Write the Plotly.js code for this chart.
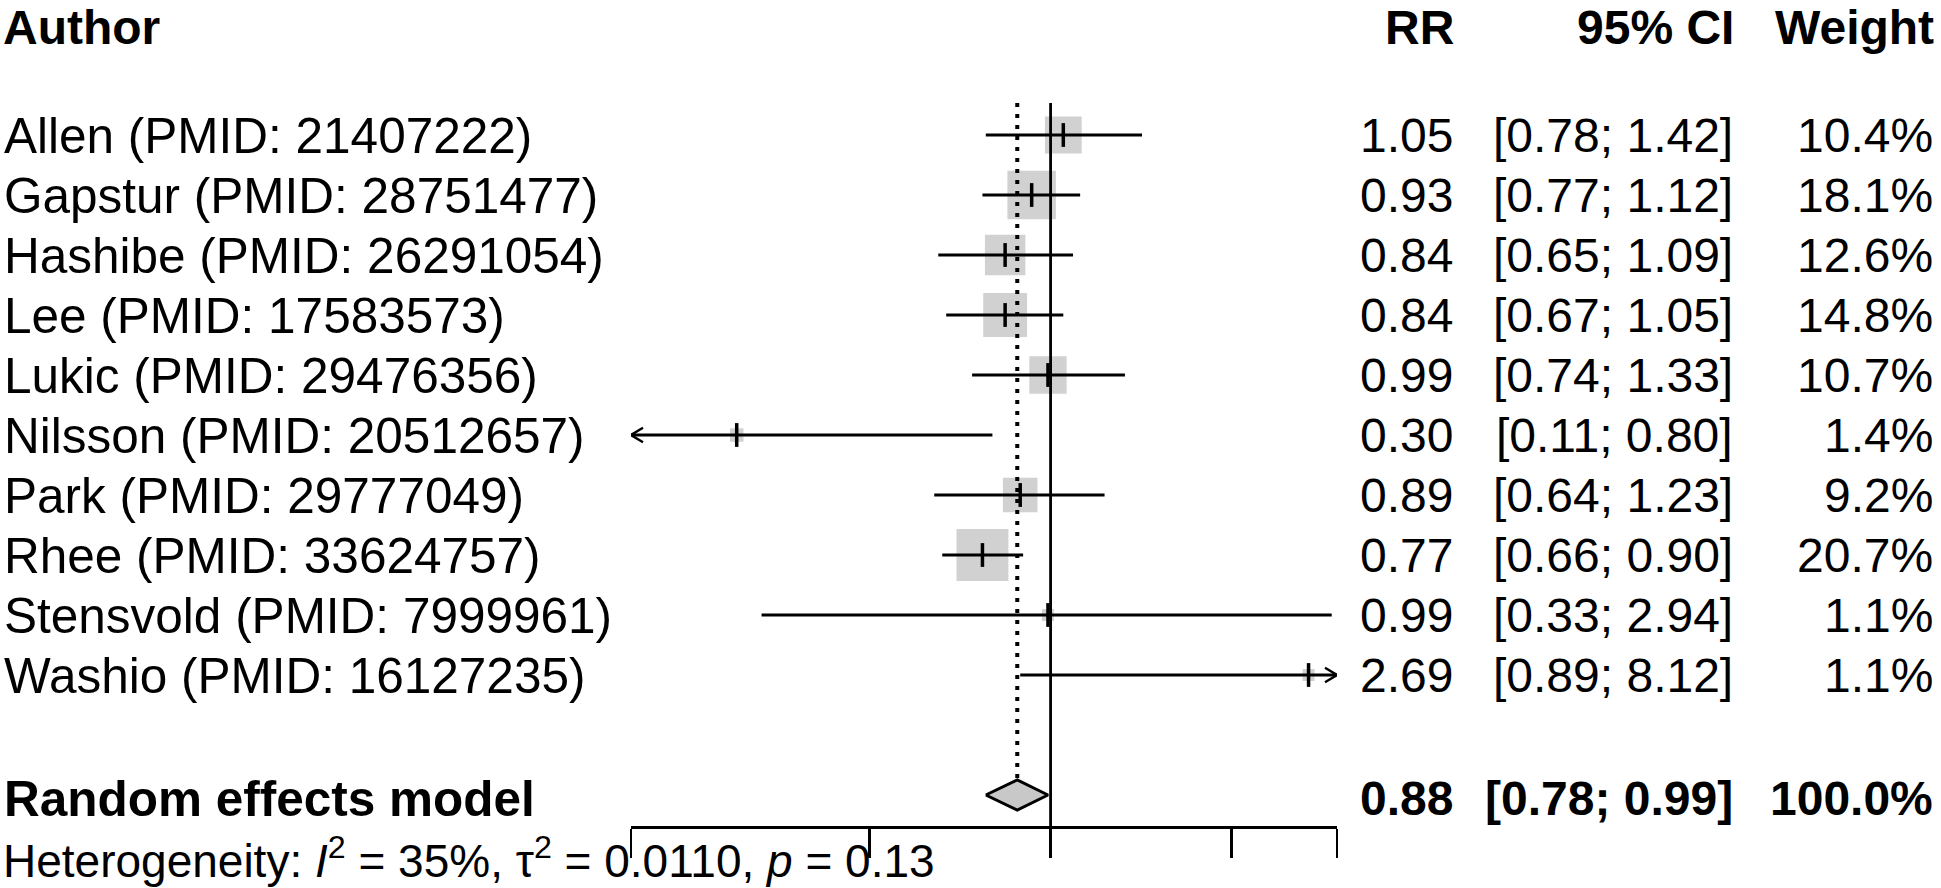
<!DOCTYPE html>
<html>
<head>
<meta charset="utf-8">
<script src="https://cdn.plot.ly/plotly-3.0.1.min.js"></script>
<style>
  html, body { margin: 0; padding: 0; background: #fff; }
  #chart { width: 1941px; height: 888px; }
</style>
</head>
<body>
<div id="chart"></div>
<script>
// study data
const studies = [
    'Allen (PMID: 21407222)',
    'Gapstur (PMID: 28751477)',
    'Hashibe (PMID: 26291054)',
    'Lee (PMID: 17583573)',
    'Lukic (PMID: 29476356)',
    'Nilsson (PMID: 20512657)',
    'Park (PMID: 29777049)',
    'Rhee (PMID: 33624757)',
    'Stensvold (PMID: 7999961)',
    'Washio (PMID: 16127235)'
];
const rr      = [1.05, 0.93, 0.84, 0.84, 0.99, 0.30, 0.89, 0.77, 0.99, 2.69];
const ciLower = [0.78, 0.77, 0.65, 0.67, 0.74, 0.11, 0.64, 0.66, 0.33, 0.89];
const ciUpper = [1.42, 1.12, 1.09, 1.05, 1.33, 0.80, 1.23, 0.90, 2.94, 8.12];
const weights = [10.4, 18.1, 12.6, 14.8, 10.7, 1.4, 9.2, 20.7, 1.1, 1.1];

const pooledLabel = 'Random effects model';
const pooledRR = 0.88;
const pooledLower = 0.78;
const pooledUpper = 0.99;
const pooledWeight = 100.0;

const hetText = 'Heterogeneity: <i>I</i><sup>2</sup> = 35%, \u03c4<sup>2</sup> = 0.0110, <i>p</i> = 0.13';

const headers = ['Author', 'RR', '95% CI', 'Weight'];
const axisTicks = [0.2, 0.5, 1, 2, 3];
const axisLimits = [0.2, 3];
const nullEffect = 1;

// layout helpers (pixels of the 1941x888 canvas)
const W = 1941, H = 888;
const FONT = 'Liberation Sans, Arial, sans-serif';
const FS = 48;          // numbers and headers
const FS_LABEL = 49.5;  // study labels
const FS_HET = 46;
const rowPx = 60, firstRowPx = 135;
const toRow = px => (px - firstRowPx) / rowPx;   // pixel -> row units
const pooledRow = studies.length + 1;
const colRight = { rr: 1455, ci: 1735, weight: 1935 };

const fmt2 = v => v.toFixed(2);
const ciText = (l, u) => `[${fmt2(l)}; ${fmt2(u)}]`;
const rows = studies.map((_, i) => i);
const clampLo = v => Math.max(v, axisLimits[0]);
const clampHi = v => Math.min(v, axisLimits[1]);

// CI lines
const ciX = [], ciY = [];
rows.forEach(i => {
    ciX.push(clampLo(ciLower[i]), clampHi(ciUpper[i]), null);
    ciY.push(i, i, null);
});

// arrow heads where the CI runs off the axis
const arrX = [], arrY = [];
const headF = Math.pow(10, 12 / 600), headH = 0.12;
rows.forEach(i => {
    if (ciLower[i] < axisLimits[0]) {
        const x0 = axisLimits[0];
        arrX.push(x0 * headF, x0, x0 * headF, null);
        arrY.push(i - headH, i, i + headH, null);
    }
    if (ciUpper[i] > axisLimits[1]) {
        const x0 = axisLimits[1];
        arrX.push(x0 / headF, x0, x0 / headF, null);
        arrY.push(i - headH, i, i + headH, null);
    }
});

const traces = [
    {   // weight boxes
        x: rr, y: rows, type: 'scatter', mode: 'markers', hoverinfo: 'skip',
        marker: { symbol: 'square', color: '#bdbdbd', size: weights.map(w => 11.4 * Math.sqrt(w)), line: { width: 0 } }
    },
    {
        x: ciX, y: ciY, type: 'scatter', mode: 'lines', hoverinfo: 'skip',
        line: { color: 'black', width: 2.8 }
    },
    {
        x: arrX, y: arrY, type: 'scatter', mode: 'lines', hoverinfo: 'skip', cliponaxis: false,
        line: { color: 'black', width: 2.4 }
    },
    {   // point estimates
        x: rr, y: rows, type: 'scatter', mode: 'markers', hoverinfo: 'skip',
        marker: { symbol: 'line-ns', size: 17, line: { color: 'black', width: 3.5 } }
    },
    {   // pooled diamond
        x: [pooledLower, pooledRR, pooledUpper, pooledRR, pooledLower],
        y: [pooledRow, pooledRow - 0.25, pooledRow, pooledRow + 0.25, pooledRow],
        type: 'scatter', mode: 'lines', fill: 'toself', fillcolor: '#c8c8c8',
        hoverinfo: 'skip', line: { color: 'black', width: 3 }
    }
];

const shapes = [
    {   // line of no effect
        type: 'line', xref: 'x', yref: 'y', x0: nullEffect, x1: nullEffect,
        y0: toRow(103), y1: toRow(827), line: { color: 'black', width: 2.8 }
    },
    {   // pooled estimate
        type: 'line', xref: 'x', yref: 'y', x0: pooledRR, x1: pooledRR,
        y0: toRow(103), y1: pooledRow - 0.25, line: { color: 'black', width: 4, dash: '4px,7px' }
    }
];

const annotations = [];
function addText(text, xPx, row, anchor, bold, size) {
    annotations.push({
        text: bold ? `<b>${text}</b>` : text,
        xref: 'paper', yref: 'y', x: xPx / W, y: row,
        xanchor: anchor, yanchor: 'middle', showarrow: false,
        font: { family: FONT, size: size || FS, color: 'black' }
    });
}
function addHeader(text, xPx, anchor) {
    annotations.push({
        text: `<b>${text}</b>`,
        xref: 'paper', yref: 'paper', x: xPx / W, y: 1,
        xanchor: anchor, yanchor: 'top', showarrow: false, borderpad: 0,
        font: { family: FONT, size: FS, color: 'black' }
    });
}

// header
addHeader(headers[0], 2, 'left');
addHeader(headers[1], colRight.rr, 'right');
addHeader(headers[2], colRight.ci, 'right');
addHeader(headers[3], colRight.weight, 'right');

// study rows
rows.forEach(i => {
    addText(studies[i], 2, i, 'left', false, FS_LABEL);
    addText(fmt2(rr[i]), colRight.rr, i, 'right', false);
    addText(ciText(ciLower[i], ciUpper[i]), colRight.ci, i, 'right', false);
    addText(weights[i].toFixed(1) + '%', colRight.weight, i, 'right', false);
});

// pooled row
const pooledTextRow = pooledRow + 0.06;
addText(pooledLabel, 2, pooledTextRow, 'left', true, FS_LABEL);
addText(fmt2(pooledRR), colRight.rr, pooledTextRow, 'right', true);
addText(ciText(pooledLower, pooledUpper), colRight.ci, pooledTextRow, 'right', true);
addText(pooledWeight.toFixed(1) + '%', colRight.weight, pooledTextRow, 'right', true);

// heterogeneity
annotations.push({
    text: hetText,
    xref: 'paper', yref: 'paper', x: 2 / W, y: 0,
    xanchor: 'left', yanchor: 'bottom', showarrow: false, borderpad: 0,
    font: { family: FONT, size: FS_HET, color: 'black' }
});

const layout = {
    width: W, height: H,
    margin: { l: 0, r: 0, t: 0, b: 0 },
    paper_bgcolor: 'white', plot_bgcolor: 'white',
    showlegend: false,
    xaxis: {
        type: 'log',
        range: axisLimits.map(Math.log10),
        domain: [631 / W, 1337 / W],
        anchor: 'free', position: (H - 827) / H,
        tickvals: axisTicks, ticktext: axisTicks.map(String),
        ticks: 'outside', ticklen: 29, tickwidth: 2.8, tickcolor: 'black',
        showline: true, linecolor: 'black', linewidth: 2.8,
        showticklabels: false, showgrid: false, zeroline: false
    },
    yaxis: {
        range: [toRow(H), toRow(0)],
        domain: [0, 1],
        visible: false, fixedrange: true
    },
    shapes: shapes,
    annotations: annotations
};

Plotly.newPlot('chart', traces, layout, { staticPlot: true });
</script>
</body>
</html>
